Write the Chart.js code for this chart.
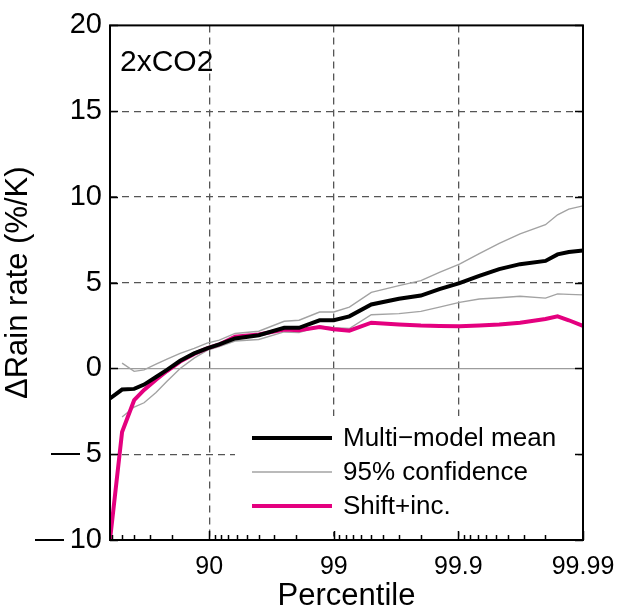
<!DOCTYPE html>
<html><head><meta charset="utf-8">
<script src="https://cdn.jsdelivr.net/npm/chart.js@4/dist/chart.umd.min.js"></script>
<style>html,body{margin:0;padding:0;background:#fff}#wrap{width:618px;height:609px}</style>
</head><body><div id="wrap"><canvas id="c" width="618" height="609"></canvas></div>
<script>
// ---- data ----
const percentiles = [37.5, 50, 60, 66.7, 73.3, 78.2, 82.9, 86.8, 89.6, 91.7, 93.8, 96.0, 97.5, 98.1, 98.7, 99.0, 99.25, 99.5, 99.7, 99.8, 99.858, 99.902, 99.932, 99.953, 99.968, 99.98, 99.984, 99.987, 99.99];
const multiModelMean = [-1.75, -1.23, -1.19, -0.94, -0.5, -0.08, 0.45, 0.88, 1.17, 1.4, 1.75, 1.94, 2.37, 2.37, 2.81, 2.81, 3.04, 3.73, 4.06, 4.25, 4.63, 4.98, 5.4, 5.79, 6.08, 6.27, 6.65, 6.79, 6.88];
const conf95Upper = [null, 0.31, -0.17, -0.08, 0.25, 0.55, 0.88, 1.17, 1.48, 1.65, 2.04, 2.17, 2.75, 2.81, 3.29, 3.29, 3.58, 4.44, 4.83, 5.12, 5.6, 6.08, 6.69, 7.29, 7.85, 8.38, 8.96, 9.29, 9.48];
const conf95Lower = [null, -2.83, -2.25, -2.0, -1.4, -0.75, 0.0, 0.6, 1.05, 1.27, 1.6, 1.69, 2.13, 2.1, 2.46, 2.37, 2.33, 3.13, 3.2, 3.33, 3.58, 3.85, 4.05, 4.12, 4.21, 4.1, 4.35, 4.32, 4.29];
const shiftInc = [-10, -3.7, -1.85, -1.25, -0.65, -0.15, 0.4, 0.85, 1.17, 1.4, 1.85, 1.98, 2.27, 2.23, 2.42, 2.29, 2.2, 2.67, 2.56, 2.5, 2.48, 2.46, 2.5, 2.56, 2.66, 2.88, 3.04, 2.81, 2.48];
const majorPercentileTicks = [90, 99, 99.9, 99.99];
const majorTickLabels = ['90', '99', '99.9', '99.99'];
const minorPercentileTicks = [40, 50, 60, 70, 80, 91, 92, 93, 94, 95, 96, 97, 98, 99.1, 99.2, 99.3, 99.4, 99.5, 99.6, 99.7, 99.8, 99.91, 99.92, 99.93, 99.94, 99.95, 99.96, 99.97, 99.98];
const yMin = -10, yMax = 20, yStep = 5;
const panelLabel = '2xCO2';
const xTitle = 'Percentile';
const yTitle = '\u0394Rain rate (%/K)';

const FONT = "'Liberation Sans', Arial, Helvetica, sans-serif";
const MAGENTA = '#e4007f';
const GRAY = '#a3a3a3';
const GRID = '#555555';

const exceed = p => +(100 - p).toPrecision(10);
const toPts = vals => percentiles.map((p, i) => ({x: exceed(p), y: vals[i]}));

const tickList = [
  ...majorPercentileTicks.map((p, i) => ({value: exceed(p), isMajor: true, text: majorTickLabels[i]})),
  ...minorPercentileTicks.map(p => ({value: exceed(p), isMajor: false, text: ''}))
];

const datasets = [
  {label: '95% confidence', data: toPts(conf95Upper), borderColor: GRAY, borderWidth: 1.4, order: 3},
  {label: '95% confidence', hideInLegend: true, data: toPts(conf95Lower), borderColor: GRAY, borderWidth: 1.4, order: 3},
  {label: 'Shift+inc.', data: toPts(shiftInc), borderColor: MAGENTA, borderWidth: 4, order: 2},
  {label: 'Multi\u2212model mean', data: toPts(multiModelMean), borderColor: '#000', borderWidth: 4, order: 1}
];
datasets.forEach(d => { d.pointRadius = 0; d.tension = 0; d.fill = false; d.spanGaps = false; });

const legendOrder = [3, 0, 2];

const decor = {
  id: 'decor',
  afterDatasetsDraw(chart) {
    const {ctx, chartArea: a} = chart;
    ctx.save();
    ctx.fillStyle = '#000';
    ctx.font = `30px ${FONT}`;
    ctx.textBaseline = 'alphabetic';
    ctx.textAlign = 'left';
    ctx.fillText(panelLabel, a.left + 10, a.top + 46);
    const bx = a.left + 125, by = a.bottom - 124;
    ctx.fillStyle = '#fff';
    ctx.fillRect(bx, by, a.right - 10 - bx, a.bottom - 8 - by);
    ctx.font = `26px ${FONT}`;
    ctx.textBaseline = 'middle';
    legendOrder.forEach((di, k) => {
      const ds = chart.data.datasets[di];
      const yy = a.bottom - 102 + k * 34;
      ctx.strokeStyle = ds.borderColor;
      ctx.lineWidth = ds.borderWidth;
      ctx.beginPath();
      ctx.moveTo(a.left + 142, yy);
      ctx.lineTo(a.left + 222, yy);
      ctx.stroke();
      ctx.fillStyle = '#000';
      ctx.fillText(ds.label, a.left + 233, yy + 1);
    });
    ctx.restore();
  },
  afterDraw(chart) {
    const {ctx, chartArea: a, scales: {x, y}} = chart;
    ctx.save();
    ctx.strokeStyle = '#000';
    ctx.lineWidth = 1.5;
    ctx.beginPath();
    x.ticks.forEach(t => {
      const px = Math.round(x.getPixelForValue(t.value)) + 0.5;
      const len = t.isMajor ? 9 : 5;
      ctx.moveTo(px, a.bottom);
      ctx.lineTo(px, a.bottom - len);
    });
    y.ticks.forEach(t => {
      const py = Math.round(y.getPixelForValue(t.value)) + 0.5;
      ctx.moveTo(a.right, py); ctx.lineTo(a.right - 8, py);
      ctx.moveTo(a.left, py); ctx.lineTo(a.left + 8, py);
    });
    ctx.stroke();
    ctx.lineWidth = 2;
    ctx.strokeRect(a.left, a.top, a.right - a.left, a.bottom - a.top);
    ctx.restore();
  }
};

new Chart(document.getElementById('c'), {
  type: 'line',
  data: {datasets},
  plugins: [decor],
  options: {
    responsive: false,
    animation: false,
    devicePixelRatio: 1,
    layout: {padding: {top: 20, right: 35, left: 0, bottom: 0}},
    plugins: {legend: {display: false}, tooltip: {enabled: false}},
    scales: {
      x: {
        type: 'logarithmic',
        reverse: true,
        min: exceed(percentiles[percentiles.length - 1]),
        max: exceed(percentiles[0]),
        afterBuildTicks: s => { s.ticks = tickList.map(t => ({...t})); },
        afterFit: s => { s.height = 69; },
        ticks: {
          autoSkip: false, maxRotation: 0, padding: 12, color: '#000',
          font: {family: FONT, size: 25},
          callback: (v, i, ticks) => ticks[i].text
        },
        grid: {
          drawTicks: false,
          lineWidth: 1.3,
          color: c => (c.tick && c.tick.isMajor && c.index < majorPercentileTicks.length - 1) ? GRID : 'rgba(0,0,0,0)'
        },
        border: {display: false, dash: [7, 5]},
        title: {display: true, text: xTitle, color: '#000', font: {family: FONT, size: 31, lineHeight: 1}, padding: {top: 0, bottom: -3}}
      },
      y: {
        type: 'linear',
        min: yMin, max: yMax,
        afterFit: s => { s.width = 110; },
        ticks: {
          stepSize: yStep, padding: 8, color: '#000',
          font: {family: FONT, size: 29},
          callback: v => String(v).replace('-', '\u2014\u2009')
        },
        grid: {
          drawTicks: false,
          lineWidth: 1.3,
          color: c => {
            if (!c.tick) return 'rgba(0,0,0,0)';
            const v = c.tick.value;
            if (v === yMin || v === yMax) return 'rgba(0,0,0,0)';
            return v === 0 ? '#9c9c9c' : GRID;
          }
        },
        border: {display: false, dash: c => (c.tick && c.tick.value === 0) ? [] : [7, 5]},
        title: {display: true, text: yTitle, color: '#000', font: {family: FONT, size: 31}, padding: {top: 0, bottom: 6}}
      }
    }
  }
});
</script></body></html>
